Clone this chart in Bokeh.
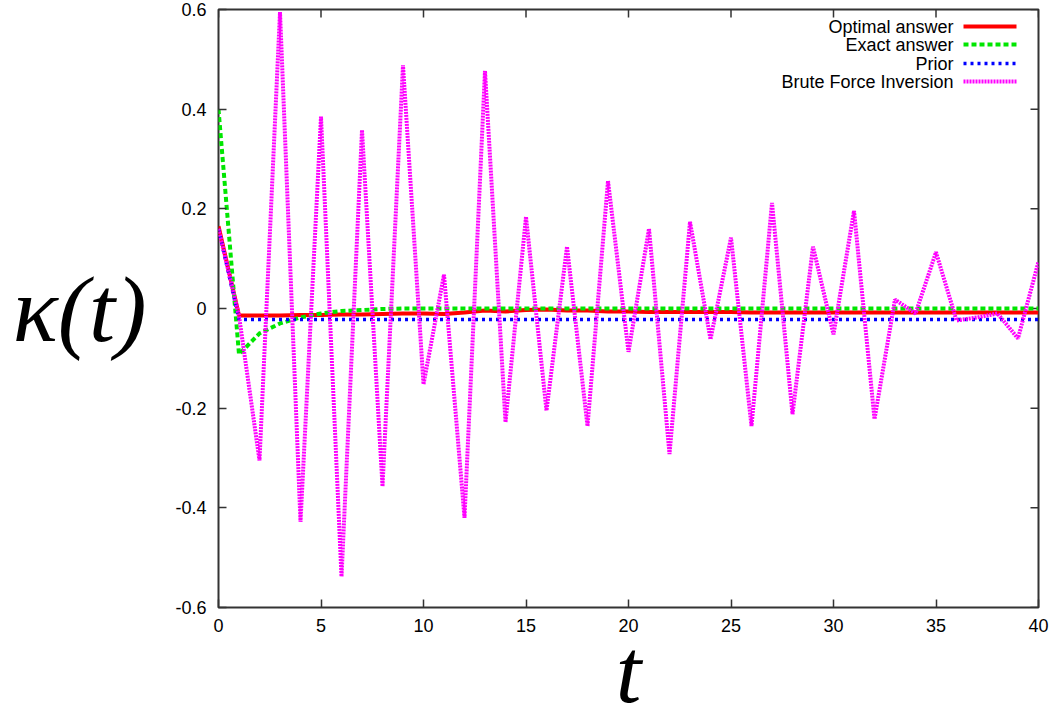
import math
from bokeh.plotting import figure
from bokeh.models import (Range1d, FixedTicker, LinearAxis, Label, Arrow)
from bokeh.embed import file_html
from bokeh.resources import INLINE

# ---- data -------------------------------------------------------------
t = list(range(41))

optimal = [0.165, -0.014, -0.014, -0.014, -0.013, -0.013, -0.012, -0.012, -0.011, -0.010,
           -0.010, -0.011, -0.008, -0.004, -0.006, -0.003, -0.002, -0.004, -0.004, -0.006,
           -0.006, -0.007, -0.007, -0.007, -0.007, -0.007, -0.008, -0.008, -0.008, -0.008,
           -0.008, -0.008, -0.008, -0.008, -0.008, -0.008, -0.008, -0.008, -0.008, -0.008,
           -0.008]

exact = [0.40, -0.092, -0.050, -0.030, -0.018, -0.010, -0.005, -0.003, -0.001, 0.0,
         0.0, 0.0, 0.0, 0.0, 0.0, 0.0, 0.0, 0.0, 0.0, 0.0,
         0.0, 0.0, 0.0, 0.0, 0.0, 0.0, 0.0, 0.0, 0.0, 0.0,
         0.0, 0.0, 0.0, 0.0, 0.0, 0.0, 0.0, 0.0, 0.0, 0.0,
         0.0]

prior = [0.16] + [-0.022] * 40

brute = [0.16, -0.015, -0.305, 0.595, -0.428, 0.385, -0.538, 0.358, -0.357, 0.488,
         -0.152, 0.068, -0.420, 0.477, -0.228, 0.184, -0.205, 0.124, -0.236, 0.256,
         -0.087, 0.160, -0.292, 0.174, -0.062, 0.142, -0.236, 0.212, -0.212, 0.124,
         -0.052, 0.196, -0.222, 0.018, -0.010, 0.113, -0.024, -0.018, -0.010, -0.060,
         0.094]

series_names = ["Optimal answer", "Exact answer", "Prior", "Brute Force Inversion"]
series_values = [optimal, exact, prior, brute]

x_ticks = [0, 5, 10, 15, 20, 25, 30, 35, 40]
x_tick_labels = ["0", "5", "10", "15", "20", "25", "30", "35", "40"]
y_ticks = [-0.6, -0.4, -0.2, 0, 0.2, 0.4, 0.6]
y_tick_labels = ["-0.6", "-0.4", "-0.2", "0", "0.2", "0.4", "0.6"]

x_label = "t"
y_label = "\u03ba(t)"

# ---- styles -----------------------------------------------------------
styles = [
    dict(line_color="#ff0000", line_width=4, line_dash="solid"),
    dict(line_color="#00e600", line_width=4, line_dash="5 3"),
    dict(line_color="#0000ff", line_width=3.5, line_dash="3 4"),
    dict(line_color="#ff00ff", line_width=4, line_dash="2 1"),
]

FONT = "Liberation Sans"
SERIF = "Liberation Serif"
AX = "#333333"
X0, X1, Y0, Y1 = 0, 40, -0.6, 0.6

p = figure(width=1050, height=725, output_backend="svg", toolbar_location=None,
           x_range=Range1d(X0, X1), y_range=Range1d(Y0, Y1),
           min_border_left=218, min_border_right=12, min_border_top=9,
           min_border_bottom=118, x_axis_location=None, y_axis_location=None)
p.grid.visible = False
p.outline_line_color = AX
p.outline_line_width = 2
p.background_fill_color = "white"
p.border_fill_color = "white"


def make_axis(ticks, labels):
    ax = LinearAxis(ticker=FixedTicker(ticks=ticks))
    ax.major_label_overrides = {k: v for k, v in zip(ticks, labels)}
    ax.axis_line_color = None
    ax.major_tick_in = 8
    ax.major_tick_out = 0
    ax.major_tick_line_color = AX
    ax.major_tick_line_width = 1.5
    ax.minor_tick_line_color = None
    ax.major_label_text_font = FONT
    ax.major_label_text_color = "black"
    ax.major_label_text_font_size = "18px"
    ax.major_label_standoff = 11
    return ax


xax = make_axis(x_ticks, x_tick_labels)
xax.axis_label = x_label
xax.axis_label_text_font = SERIF
xax.axis_label_text_font_style = "italic"
xax.axis_label_text_font_size = "92px"
xax.axis_label_text_color = "black"
xax.axis_label_standoff = -15
p.add_layout(xax, "below")

yax = make_axis(y_ticks, y_tick_labels)
yax.major_label_standoff = 12
yax.axis_label = y_label
yax.axis_label_orientation = "horizontal"
yax.axis_label_text_font = SERIF
yax.axis_label_text_font_style = "italic"
yax.axis_label_text_font_size = "94px"
yax.axis_label_text_color = "black"
yax.axis_label_standoff = 26
p.add_layout(yax, "left")

# mirrored inward ticks on the top and right edges (gnuplot border style)
p.ray(x=x_ticks, y=[Y1] * len(x_ticks), length=8, length_units="screen",
      angle=-math.pi / 2, line_color=AX, line_width=1.5)
p.ray(x=[X1] * len(y_ticks), y=y_ticks, length=8, length_units="screen",
      angle=math.pi, line_color=AX, line_width=1.5)

for vals, st in zip(series_values, styles):
    p.line(t, vals, **st)

# legend (gnuplot style: right-aligned text, sample to the right)
row_y = [581, 563, 544, 526]
for name, st, yy in zip(series_names, styles, row_y):
    p.add_layout(Label(x=735, y=yy, x_units="screen", y_units="screen", text=name,
                       text_align="right", text_baseline="middle",
                       text_font=FONT, text_font_size="18px", text_color="black"))
    p.add_layout(Arrow(x_start=745, y_start=yy, x_end=798, y_end=yy,
                       start_units="screen", end_units="screen", end=None,
                       **st))

open("out.html", "w").write(file_html(p, INLINE))
